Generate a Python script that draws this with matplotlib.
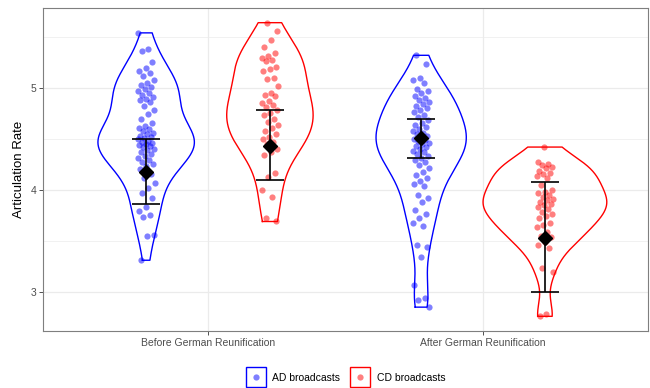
import numpy as np
import matplotlib.pyplot as plt
from matplotlib.lines import Line2D

# periods on the x axis
periods = ["Before German Reunification", "After German Reunification"]
groups = ["AD broadcasts", "CD broadcasts"]
colors = ["#0000FF", "#FF0000"]

# articulation rates, per period and broadcast type
ad_before = [5.54, 5.38, 5.36, 5.25, 5.20, 5.17, 5.15, 5.12,
             5.08, 5.05, 5.03, 5.01, 4.99, 4.97, 4.95, 4.93, 4.91, 4.89, 4.88, 4.86,
             4.82, 4.78, 4.74, 4.70,
             4.66, 4.63, 4.61, 4.60, 4.58, 4.56, 4.55, 4.53, 4.52, 4.51, 4.50, 4.48,
             4.47, 4.46, 4.45, 4.44, 4.43, 4.42, 4.40, 4.39, 4.37, 4.35, 4.33, 4.31,
             4.29, 4.27, 4.25, 4.23,
             4.20, 4.16, 4.12, 4.07, 4.02, 3.97, 3.92,
             3.83, 3.79, 3.75, 3.73, 3.56, 3.55, 3.31]
cd_before = [5.64, 5.56, 5.47, 5.40, 5.34, 5.31, 5.29, 5.27, 5.26, 5.21, 5.19, 5.17,
             5.10, 5.09, 5.02, 4.95, 4.93, 4.92, 4.87, 4.85, 4.83, 4.81, 4.78, 4.75,
             4.73, 4.70, 4.67, 4.64, 4.61, 4.58, 4.55, 4.52, 4.50, 4.47, 4.45, 4.40,
             4.37, 4.34, 4.17, 4.13, 4.00, 3.93, 3.72, 3.69]
ad_after = [5.32, 5.23, 5.10, 5.08, 5.05, 4.99, 4.97, 4.95, 4.92, 4.90, 4.88, 4.86,
            4.84, 4.82, 4.80, 4.78, 4.76, 4.73, 4.71, 4.69, 4.66, 4.64, 4.62, 4.60,
            4.58, 4.56, 4.55, 4.53, 4.52, 4.50, 4.49, 4.48, 4.46, 4.45, 4.43, 4.42,
            4.40, 4.38, 4.37, 4.35, 4.33, 4.31, 4.29, 4.27, 4.24, 4.21, 4.18, 4.15,
            4.12, 4.09, 4.06, 4.04, 3.95, 3.92, 3.88, 3.80, 3.76, 3.72, 3.68, 3.65,
            3.46, 3.44, 3.34, 3.07, 2.94, 2.92, 2.85]
cd_after = [4.42, 4.27, 4.25, 4.24, 4.22, 4.21, 4.19, 4.17, 4.16, 4.14, 4.12, 4.05,
            4.00, 3.98, 3.97, 3.95, 3.93, 3.91, 3.90, 3.88, 3.86, 3.85, 3.83, 3.81,
            3.78, 3.76, 3.74, 3.72, 3.68, 3.66, 3.64, 3.59, 3.55, 3.54, 3.49, 3.46,
            3.43, 3.23, 3.19, 2.78, 2.76]

# summary shown as diamond + error bar
means = [[4.18, 4.51], [4.43, 3.53]]      # [group][period]
lower = [[3.86, 4.31], [4.10, 3.00]]
upper = [[4.50, 4.70], [4.78, 4.08]]

data = [[ad_before, ad_after], [cd_before, cd_after]]


def kde(vals, n=512):
    """gaussian density like R's density() with bw.nrd0, trimmed to range"""
    v = np.asarray(vals)
    iqr = np.subtract(*np.percentile(v, [75, 25]))
    bw = 0.9 * min(v.std(ddof=1), iqr / 1.34) * len(v) ** -0.2
    y = np.linspace(v.min(), v.max(), n)
    d = np.exp(-0.5 * ((y[:, None] - v[None, :]) / bw) ** 2).sum(axis=1)
    d /= len(v) * bw * np.sqrt(2 * np.pi)
    return y, d


plt.rcParams['font.family'] = ['Liberation Sans', 'DejaVu Sans']
fig = plt.figure(figsize=(6.5, 3.88), dpi=100)
ax = fig.add_axes([0.0662, 0.1469, 0.9308, 0.8325])

dodge = 0.225
dens = [[kde(data[g][p]) for p in range(2)] for g in range(2)]
dmax = max(d[1].max() for row in dens for d in row)

for g in range(2):
    for p in range(2):
        xc = p + 1 + (dodge if g else -dodge)
        y, d = dens[g][p]
        w = d / dmax * 0.225
        xs = np.concatenate([xc - w, (xc + w)[::-1], [xc - w[0]]])
        ys = np.concatenate([y, y[::-1], [y[0]]])
        ax.plot(xs, ys, color=colors[g], lw=1.0, zorder=3)

        vals = np.asarray(data[g][p])
        idx = np.arange(len(vals))
        jit = ((idx * 0.618034 + 0.3 * g + 0.17 * p) % 1 - 0.5) * 0.062
        ax.scatter(xc + jit, vals, s=20, color=colors[g], alpha=0.5,
                   linewidths=0, zorder=4)

        ax.vlines(xc, lower[g][p], upper[g][p], color="black", lw=1.2, zorder=5)
        ax.hlines([lower[g][p], upper[g][p]], xc - 0.05, xc + 0.05,
                  color="black", lw=1.2, zorder=5)
        ax.plot(xc, means[g][p], marker="D", ms=7, color="black", zorder=6)

allv = np.concatenate([np.asarray(v) for row in data for v in row])
pad = 0.05 * (allv.max() - allv.min())
ax.set_ylim(allv.min() - pad, allv.max() + pad)
ax.set_xlim(0.4, 2.6)

ax.set_xticks([1, 2])
ax.set_xticklabels(periods)
ax.set_yticks([3, 4, 5])
ax.set_yticks([3.5, 4.5, 5.5], minor=True)
ax.tick_params(axis="both", which="major", length=3, width=0.6,
               color="#333333", labelcolor="#4D4D4D", labelsize=7.5, pad=2)
ax.tick_params(axis="y", which="minor", length=0)
ax.grid(True, which="major", color="#EBEBEB", lw=0.9, zorder=0)
ax.grid(True, which="minor", axis="y", color="#EBEBEB", lw=0.5, zorder=0)
ax.set_axisbelow(True)
for s in ax.spines.values():
    s.set_color("#7F7F7F")
    s.set_linewidth(0.8)
ax.set_ylabel("Articulation Rate", fontsize=9.5, labelpad=4)

handles = []
for c in colors:
    box = Line2D([], [], ls="none", marker="s", ms=15, mfc="none", mec=c, mew=1.0)
    dot = Line2D([], [], ls="none", marker="o", ms=4.5, mfc=c, mec="none", alpha=0.5)
    handles.append((box, dot))
# legend sits centred under the panel, as ggplot does
fig.legend(handles, groups, loc="center", bbox_to_anchor=(345.5 / 650, 10 / 388),
           ncol=2, frameon=False, fontsize=7.5, handlelength=2.0,
           columnspacing=0.9, handletextpad=0.6)

fig.savefig("out.png", dpi=100)
